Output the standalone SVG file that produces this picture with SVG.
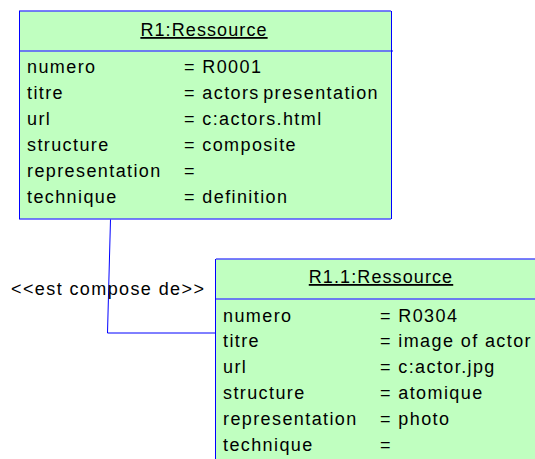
<svg xmlns="http://www.w3.org/2000/svg" width="535" height="459" viewBox="0 0 535 459">
<style>
.box{fill:#c0ffc0;stroke:none}
.ln{stroke:#0000ff;stroke-width:1;fill:none}
.hl{stroke:#5050ff;stroke-width:1.4;fill:none}
text{font-family:"Liberation Sans",Arial,sans-serif;font-size:18px;fill:#000;letter-spacing:1.4px}
.ttl{text-anchor:middle;text-decoration:underline;letter-spacing:1.1px}
</style>
<rect width="535" height="459" fill="#fff"/>
<g id="connectors">
<polyline class="ln" points="110.5,219 107.5,333 216,333"/>
</g>
<text x="11" y="295" letter-spacing="1.3">&lt;&lt;est compose de&gt;&gt;</text>
<g id="r1">
<rect class="box" x="19" y="11" width="372" height="208"/>
<line class="hl" x1="19" y1="11" x2="391" y2="11"/>
<line class="hl" x1="19" y1="51" x2="393" y2="51"/>
<line class="hl" x1="19" y1="219" x2="391" y2="219"/>
<line class="ln" x1="19.5" y1="11" x2="19.5" y2="219"/>
<line class="ln" x1="391.5" y1="11" x2="391.5" y2="219"/>
<text class="ttl" x="204" y="36">R1:Ressource</text>
<text x="27" y="73">numero</text><text x="184" y="73">= R0001</text>
<text x="27" y="99">titre</text><text x="184" y="99">= <tspan word-spacing="-3">actors presentation</tspan></text>
<text x="27" y="125">url</text><text x="184" y="125">= c:actors.html</text>
<text x="27" y="151">structure</text><text x="184" y="151">= composite</text>
<text x="27" y="177">representation</text><text x="184" y="177">=</text>
<text x="27" y="203">technique</text><text x="184" y="203">= definition</text>
</g>
<g id="r1_1">
<rect class="box" x="216" y="259" width="319" height="200"/>
<line class="hl" x1="216" y1="259" x2="535" y2="259"/>
<line class="hl" x1="216" y1="299" x2="535" y2="299"/>
<line class="ln" x1="215.5" y1="259" x2="215.5" y2="459"/>
<text class="ttl" x="381" y="283">R1.1:Ressource</text>
<text x="223" y="322">numero</text><text x="380" y="322">= R0304</text>
<text x="223" y="347">titre</text><text x="380" y="347">= image of actor</text>
<text x="223" y="373">url</text><text x="380" y="373">= c:actor.jpg</text>
<text x="223" y="399">structure</text><text x="380" y="399">= atomique</text>
<text x="223" y="425">representation</text><text x="380" y="425">= photo</text>
<text x="223" y="451">technique</text><text x="380" y="451">=</text>
</g>
</svg>
